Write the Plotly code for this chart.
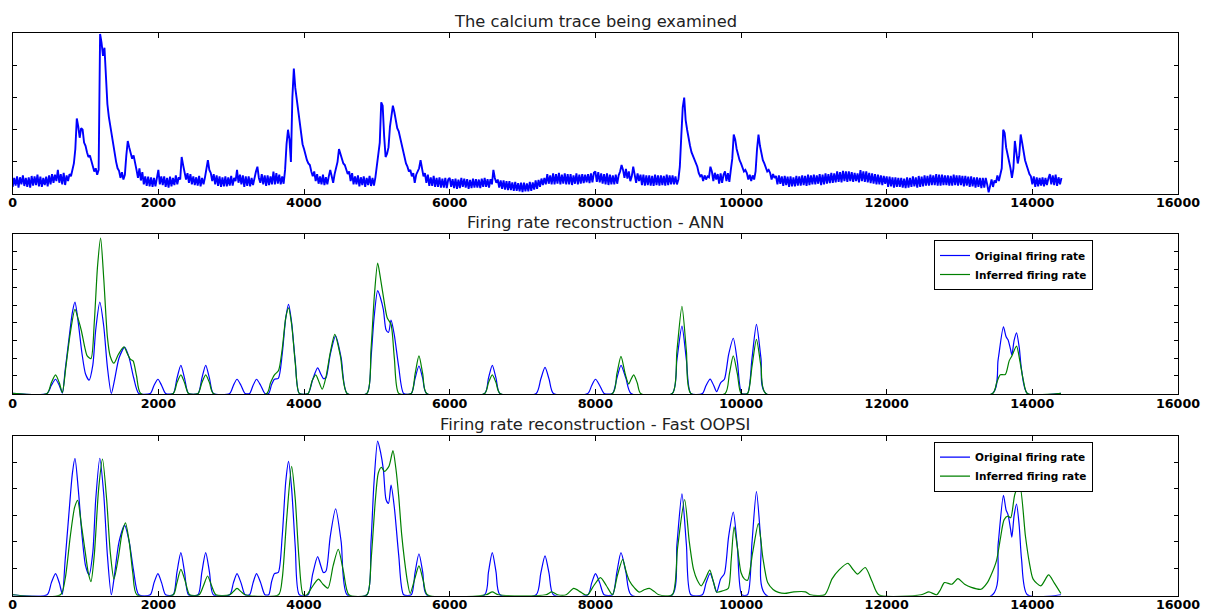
import plotly.graph_objects as go

# ---------------- data ----------------
# Calcium trace, one value every 20 frames (0 .. 14400)
calcium_y = [
    # 0 - 980
    0.22, 0.50, 0.26, 0.55, 0.20, 0.52, 0.30, 0.58, 0.25, 0.50, 0.22, 0.52, 0.20, 0.56, 0.26, 0.55, 0.28, 0.60, 0.24, 0.54,
    0.22, 0.50, 0.28, 0.54, 0.24, 0.58, 0.30, 0.62, 0.35, 0.60, 0.40, 0.75, 0.35, 0.62, 0.30, 0.66, 0.28, 0.58, 0.40, 0.62,
    0.55, 0.80, 0.95, 1.40, 2.35, 2.10, 1.75, 2.05, 2.00, 1.60,
    # 1000 - 1980
    1.50, 1.30, 1.15, 1.20, 1.00, 0.85, 0.70, 0.80, 0.60, 0.75,
    4.98, 4.70, 4.30, 4.55, 3.40, 2.80, 2.40, 2.10, 1.85, 1.45,
    1.25, 1.00, 0.80, 0.72, 0.50, 0.68, 0.45, 0.60, 1.20, 1.65,
    1.45, 1.30, 1.10, 1.20, 0.90, 0.75, 0.50, 0.80, 0.42, 0.68,
    0.30, 0.55, 0.25, 0.54, 0.24, 0.52, 0.22, 0.50, 0.24, 0.56,
    # 2000 - 2980
    0.75, 0.30, 0.55, 0.28, 0.55, 0.22, 0.50, 0.20, 0.54, 0.24, 0.50, 0.28, 0.58, 0.30, 0.52, 0.45, 1.15, 0.90, 0.70, 0.45,
    0.65, 0.35, 0.62, 0.30, 0.55, 0.28, 0.52, 0.26, 0.56, 0.24, 0.50, 0.30, 0.52, 0.80, 1.05, 0.75, 0.65, 0.40, 0.62, 0.30,
    0.58, 0.25, 0.55, 0.22, 0.52, 0.24, 0.55, 0.24, 0.52, 0.26,
    # 3000 - 3980
    0.56, 0.26, 0.50, 0.40, 0.75, 0.35, 0.60, 0.30, 0.58, 0.22, 0.55, 0.25, 0.55, 0.24, 0.50, 0.28, 0.52, 0.70, 0.85, 0.50,
    0.35, 0.62, 0.30, 0.58, 0.25, 0.58, 0.28, 0.55, 0.30, 0.70, 0.30, 0.65, 0.32, 0.60, 0.30, 0.55, 0.32, 0.75,
    1.55, 2.00, 1.70, 1.00, 3.00, 3.90, 3.30, 2.95, 2.60, 2.20, 1.85, 1.55,
    # 4000 - 4980
    1.40, 1.20, 1.05, 0.95, 0.90, 0.70, 0.55, 0.70, 0.40, 0.62, 0.32, 0.55, 0.30, 0.60, 0.28, 0.52, 0.30, 0.55, 0.75, 0.55,
    0.35, 0.62, 0.80, 1.00, 1.40, 1.25, 1.05, 0.95, 0.90, 0.75, 0.62, 0.70, 0.40, 0.65, 0.30, 0.55, 0.30, 0.58, 0.24, 0.52,
    0.28, 0.55, 0.22, 0.50, 0.28, 0.56, 0.25, 0.50, 0.26, 0.52,
    # 5000 - 5980
    0.95, 1.20, 1.60, 2.85, 2.75, 1.80, 1.15, 1.25, 1.45, 2.10,
    2.50, 2.75, 2.55, 2.30, 2.05, 1.95, 1.75, 1.50, 1.30, 1.10,
    0.95, 0.85, 0.70, 0.75, 0.55, 0.65, 0.35, 0.60, 0.68, 0.80,
    1.05, 0.85, 0.55, 0.65, 0.35, 0.60, 0.25, 0.52, 0.25, 0.56,
    0.22, 0.50, 0.22, 0.52, 0.20, 0.48, 0.20, 0.50, 0.18, 0.45,
    # 6000 - 6980
    0.50, 0.22, 0.46, 0.18, 0.48, 0.16, 0.45, 0.18, 0.50, 0.22, 0.48, 0.20, 0.46, 0.16, 0.44, 0.18, 0.48, 0.20, 0.46, 0.20,
    0.45, 0.18, 0.48, 0.22, 0.50, 0.22, 0.46, 0.20, 0.46, 0.30, 0.75, 0.50, 0.35, 0.45, 0.20, 0.42, 0.16, 0.42, 0.14, 0.40,
    0.12, 0.40, 0.12, 0.36, 0.10, 0.38, 0.10, 0.34, 0.08, 0.35,
    # 7000 - 7980
    0.06, 0.35, 0.08, 0.33, 0.08, 0.38, 0.10, 0.36, 0.14, 0.42, 0.16, 0.44, 0.22, 0.48, 0.28, 0.50, 0.30, 0.62, 0.32, 0.58,
    0.30, 0.64, 0.30, 0.62, 0.32, 0.66, 0.30, 0.60, 0.32, 0.64, 0.30, 0.62, 0.30, 0.62, 0.28, 0.58, 0.32, 0.64, 0.30, 0.60,
    0.32, 0.62, 0.34, 0.60, 0.36, 0.62, 0.34, 0.64, 0.36, 0.66,
    # 8000 - 8980
    0.70, 0.38, 0.68, 0.36, 0.64, 0.32, 0.62, 0.30, 0.64, 0.28, 0.60, 0.30, 0.58, 0.30, 0.60, 0.32, 0.58, 0.70, 0.90, 0.75,
    0.50, 0.78, 0.48, 0.70, 0.40, 0.55, 0.85, 0.60, 0.35, 0.64, 0.40, 0.60, 0.28, 0.60, 0.26, 0.58, 0.28, 0.58, 0.26, 0.56,
    0.25, 0.60, 0.28, 0.58, 0.26, 0.58, 0.28, 0.56, 0.26, 0.60,
    # 9000 - 9980
    0.28, 0.58, 0.30, 0.58, 0.30, 0.55, 0.30, 0.45, 0.85, 1.80,
    2.70, 3.00, 2.30, 2.00, 1.70, 1.50, 1.30, 1.20, 1.05, 0.95,
    0.85, 0.65, 0.55, 0.60, 0.40, 0.58, 0.45, 0.55, 0.52, 0.85,
    0.70, 0.40, 0.66, 0.45, 0.62, 0.32, 0.64, 0.35, 0.60, 0.70,
    0.40, 0.65, 0.38, 0.75, 1.10, 1.85, 1.70, 1.40, 1.20, 1.05,
    # 10000 - 10980
    0.95, 0.85, 0.70, 0.75, 0.65, 0.45, 0.60, 0.40, 0.58, 0.45,
    0.70, 1.40, 1.85, 1.50, 1.20, 1.05, 0.95, 0.80, 0.70, 0.75,
    0.65, 0.45, 0.62, 0.50, 0.56, 0.30, 0.58, 0.32, 0.55, 0.25,
    0.56, 0.28, 0.54, 0.22, 0.55, 0.24, 0.52, 0.24, 0.56, 0.26,
    0.55, 0.26, 0.58, 0.28, 0.56, 0.25, 0.60, 0.28, 0.58, 0.30,
    # 11000 - 11980
    0.60, 0.30, 0.58, 0.32, 0.62, 0.28, 0.60, 0.30, 0.64, 0.32, 0.62, 0.34, 0.66, 0.35, 0.64, 0.36, 0.70, 0.38, 0.68, 0.36,
    0.72, 0.40, 0.70, 0.38, 0.70, 0.40, 0.68, 0.38, 0.66, 0.40, 0.64, 0.36, 0.74, 0.40, 0.70, 0.38, 0.70, 0.36, 0.66, 0.34,
    0.64, 0.32, 0.62, 0.30, 0.60, 0.30, 0.58, 0.28, 0.56, 0.32,
    # 12000 - 12980
    0.55, 0.22, 0.54, 0.24, 0.52, 0.20, 0.52, 0.22, 0.50, 0.22, 0.50, 0.20, 0.48, 0.18, 0.52, 0.20, 0.50, 0.22, 0.55, 0.24,
    0.52, 0.20, 0.56, 0.22, 0.54, 0.24, 0.58, 0.26, 0.56, 0.26, 0.60, 0.28, 0.58, 0.28, 0.62, 0.26, 0.60, 0.26, 0.60, 0.28,
    0.58, 0.28, 0.58, 0.26, 0.56, 0.26, 0.60, 0.28, 0.58, 0.26,
    # 13000 - 13980
    0.58, 0.28, 0.56, 0.24, 0.56, 0.26, 0.54, 0.22, 0.55, 0.24, 0.52, 0.20, 0.52, 0.22, 0.50, 0.18, 0.50, 0.20, 0.50, 0.30,
    0.05, 0.25, 0.45, 0.22, 0.42, 0.35, 0.58, 0.40, 0.62, 0.80,
    2.00, 1.90, 1.45, 1.25, 1.10, 0.80, 0.50, 0.80, 1.65, 1.30,
    0.95, 1.20, 1.85, 1.60, 1.30, 1.05, 0.90, 0.75, 0.62, 0.55,
    # 14000 - 14400
    0.30, 0.55, 0.22, 0.52, 0.24, 0.50, 0.26, 0.52, 0.24, 0.50, 0.28, 0.48, 0.62, 0.30, 0.58, 0.28, 0.60, 0.25, 0.52, 0.30, 0.50,
]
calcium_x = [20 * i for i in range(len(calcium_y))]

# Original firing rate (same series in both reconstruction panels)
orig_x = [0, 472, 530, 588, 640, 682, 720, 770, 820, 855, 900, 950, 1000, 1049, 1100, 1140, 1196, 1250, 1300, 1354,
          1400, 1460, 1537, 1600, 1660, 1731, 1889, 1940, 1994, 2045, 2099, 2204, 2255, 2309, 2360, 2414,
          2545, 2597, 2650, 2702, 2755, 2980, 3030, 3080, 3135, 3190, 3253, 3300, 3348, 3405, 3463,
          3515, 3555, 3594, 3647, 3700, 3750, 3788, 3830, 3880, 3935,
          4056, 4120, 4187, 4230, 4266, 4302, 4360, 4434, 4510, 4591,
          4864, 4920, 4960, 5011, 5050, 5090, 5126, 5160, 5195, 5240, 5300, 5368,
          5473, 5525, 5578, 5630, 5683, 6480, 6532, 6585, 6637, 6690, 7188, 7250, 7309, 7365, 7424,
          7897, 7950, 8002, 8060, 8120, 8236, 8295, 8352, 8420, 8490, 9057, 9120, 9189, 9250, 9311,
          9470, 9520, 9576, 9625, 9666, 9720, 9772, 9830, 9894, 9950, 10010, 10090, 10150, 10212, 10275, 10339,
          13454, 13530, 13603, 13640, 13666, 13700, 13719, 13750, 13783, 13820, 13852, 13931, 14392]
orig_y = [0, 0, 0.45, 0.80, 0.45, 0.02, 1.3, 3.0, 4.6, 5.16, 4.0, 2.3, 1.1, 0.75, 1.6, 3.6, 5.16, 3.8, 1.5, 0.0,
          0.8, 2.0, 2.62, 2.0, 0.9, 0, 0, 0.45, 0.80, 0.45, 0, 0, 0.85, 1.59, 0.85, 0,
          0, 0.85, 1.59, 0.85, 0, 0, 0.45, 0.80, 0.45, 0, 0, 0.45, 0.80, 0.45, 0,
          0, 0.5, 0.80, 0.85, 2.2, 4.3, 5.04, 4.0, 1.8, 0,
          0, 0.8, 1.44, 1.1, 0.84, 0.9, 2.2, 3.25, 2.0, 0,
          0, 2.0, 4.2, 5.81, 5.4, 4.72, 3.6, 3.45, 4.14, 3.3, 1.5, 0,
          0, 0.85, 1.55, 0.85, 0, 0, 0.85, 1.59, 0.85, 0, 0, 0.8, 1.47, 0.8, 0,
          0, 0.45, 0.80, 0.45, 0, 0, 0.85, 1.59, 0.85, 0, 0, 1.9, 3.81, 1.9, 0,
          0, 0.45, 0.81, 0.45, 0.1, 0.6, 0.8, 2.2, 3.12, 1.8, 0, 0, 1.95, 3.9, 1.95, 0,
          0, 1.9, 3.76, 3.2, 3.03, 2.5, 2.18, 3.0, 3.43, 2.6, 1.34, 0, 0]

# Inferred firing rate - ANN
ann_x = [0, 472, 530, 588, 640, 682, 730, 790, 855, 900, 944, 990, 1023, 1075, 1120, 1165, 1207, 1250, 1300, 1338,
         1390, 1450, 1527, 1580, 1616, 1653, 1700, 1758, 2204, 2255, 2309, 2360, 2414, 2545, 2597, 2650, 2702, 2755,
         3489, 3540, 3594, 3650, 3700, 3750, 3788, 3830, 3880, 3935,
         4056, 4110, 4161, 4210, 4250, 4300, 4360, 4423, 4500, 4591,
         4864, 4920, 4965, 5011, 5050, 5090, 5142, 5195, 5240, 5300,
         5473, 5525, 5578, 5630, 5683, 6480, 6532, 6585, 6637, 6690,
         8236, 8295, 8352, 8410, 8458, 8490, 8527, 8575, 8622, 9057, 9120, 9189, 9250, 9311,
         9783, 9840, 9894, 9950, 10000, 10090, 10150, 10212, 10275, 10339,
         13454, 13510, 13560, 13629, 13682, 13719, 13783, 13830, 13878, 13931, 14392]
ann_y = [0, 0, 0.6, 1.05, 0.6, 0.05, 1.5, 3.4, 4.75, 4.2, 3.53, 2.6, 2.12, 1.97, 4.0, 7.2, 8.78, 6.5, 3.2, 2.12,
         1.71, 2.2, 2.63, 2.2, 1.93, 1.84, 1.0, 0, 0, 0.6, 1.05, 0.6, 0, 0, 0.6, 1.05, 0.6, 0,
         0, 0.6, 1.05, 1.3, 2.5, 4.3, 4.84, 3.9, 1.7, 0,
         0, 0.7, 1.05, 0.6, 0.24, 0.9, 2.3, 3.34, 2.1, 0,
         0, 2.5, 5.5, 7.37, 6.5, 5.46, 4.28, 3.9, 2.0, 0,
         0, 1.1, 2.12, 1.1, 0, 0, 0.6, 1.05, 0.6, 0,
         0, 1.1, 2.1, 1.1, 0.53, 0.8, 1.05, 0.6, 0, 0, 2.4, 4.93, 2.4, 0,
         0, 1.1, 2.12, 1.1, 0, 0, 1.5, 3.06, 1.5, 0,
         0, 0.6, 1.05, 1.07, 1.84, 2.12, 2.68, 1.8, 0.71, 0, 0]

# Inferred firing rate - Fast OOPSI
oopsi_x = [0, 656, 720, 790, 850, 892, 940, 997, 1040, 1075, 1120, 1180, 1233, 1290, 1340, 1390, 1450, 1500, 1548, 1600, 1650, 1705,
           2204, 2250, 2309, 2370, 2430, 2560, 2620, 2676, 2730, 2790, 2980, 3030, 3080, 3135, 3190,
           3650, 3700, 3760, 3830, 3880, 3930, 3988,
           4040, 4100, 4198, 4260, 4329, 4400, 4470, 4540, 4617,
           4864, 4920, 4980, 5020, 5063, 5105, 5168, 5221, 5260, 5300, 5340, 5378, 5420, 5457, 5520, 5578, 5640, 5693,
           6500, 6585, 6670, 7320, 7400, 7480, 7600, 7703, 7800, 7860,
           7897, 7980, 8070, 8150, 8236, 8300, 8375, 8420, 8467, 8540, 8605, 8680, 8742, 8810, 8872,
           9057, 9130, 9226, 9290, 9348, 9400, 9454, 9510, 9571, 9620, 9666, 9750, 9825, 9865, 9905, 9950, 10000,
           10045, 10090, 10160, 10238, 10300, 10366, 10440, 10514, 10600, 10726, 10885, 10950,
           11150, 11250, 11350, 11467, 11540, 11600, 11706, 11800, 11891, 12474, 12580, 12686,
           12740, 12792, 12898, 12977, 13070, 13163, 13296, 13380, 13428, 13507, 13560, 13613, 13666, 13703,
           13760, 13825, 13905, 13960, 14011, 14117, 14223, 14300, 14392]
oopsi_y = [0, 0, 0.6, 2.2, 3.3, 3.57, 2.7, 1.59, 0.8, 0.5, 1.5, 4.0, 5.13, 3.6, 1.6, 0.59, 1.4, 2.3, 2.72, 2.0, 0.8, 0,
           0, 0.4, 0.96, 0.5, 0, 0, 0.35, 0.71, 0.35, 0, 0, 0.12, 0.24, 0.12, 0,
           0, 0.6, 2.8, 4.85, 3.6, 1.4, 0,
           0, 0.25, 0.59, 0.4, 0.25, 1.1, 1.72, 0.9, 0,
           0, 1.3, 3.6, 4.6, 4.82, 4.66, 4.87, 5.45, 4.8, 3.72, 2.3, 1.34, 0.5, 0.05, 0.6, 1.09, 0.5, 0,
           0, 0.11, 0, 0, 0.11, 0, 0, 0.24, 0.1, 0,
           0, 0.35, 0.65, 0.35, 0, 0.7, 1.34, 0.9, 0.53, 0.25, 0.1, 0.2, 0.24, 0.12, 0,
           0, 1.8, 3.6, 2.0, 0.96, 0.55, 0.34, 0.6, 0.93, 0.5, 0.1, 0.15, 0.24, 1.3, 2.57, 1.8, 0.84,
           0.6, 0.55, 1.6, 2.69, 1.4, 0.46, 0.2, 0.09, 0.05, 0.11, 0.11, 0,
           0, 0.6, 0.95, 1.19, 0.95, 0.78, 1.03, 0.5, 0, 0, 0.11, 0,
           0.2, 0.46, 0.4, 0.61, 0.4, 0.28, 0.21, 0.45, 0.71, 1.28, 2.1, 2.84, 2.97, 2.91,
           3.8, 4.16, 2.22, 1.2, 0.59, 0.34, 0.75, 0.45, 0.05]

titles = ["The calcium trace being examined",
          "Firing rate reconstruction - ANN",
          "Firing rate reconstruction - Fast OOPSI"]
legend_names = ["Original firing rate", "Inferred firing rate"]
x_tick_values = [0, 2000, 4000, 6000, 8000, 10000, 12000, 14000, 16000]

# ---------------- figure ----------------
BLUE = "#0000ff"
GREEN = "#008000"
FONT = "DejaVu Sans"
W, H = 1205, 613

fig = go.Figure()
fig.add_trace(go.Scatter(x=calcium_x, y=calcium_y, mode="lines",
                         line=dict(color=BLUE, width=1.9), xaxis="x", yaxis="y",
                         showlegend=False, hoverinfo="skip"))
spl = dict(shape="spline", smoothing=0.7, width=1.2)
fig.add_trace(go.Scatter(x=orig_x, y=orig_y, mode="lines", name=legend_names[0],
                         line=dict(color=BLUE, **spl), xaxis="x2", yaxis="y2", legend="legend"))
fig.add_trace(go.Scatter(x=ann_x, y=ann_y, mode="lines", name=legend_names[1],
                         line=dict(color=GREEN, **spl), xaxis="x2", yaxis="y2", legend="legend"))
fig.add_trace(go.Scatter(x=orig_x, y=orig_y, mode="lines", name=legend_names[0],
                         line=dict(color=BLUE, **spl), xaxis="x3", yaxis="y3", legend="legend2"))
fig.add_trace(go.Scatter(x=oopsi_x, y=oopsi_y, mode="lines", name=legend_names[1],
                         line=dict(color=GREEN, **spl), xaxis="x3", yaxis="y3", legend="legend2"))

x_left, x_right = 12.7 / W, 1178 / W
panels = [(33.3, 194.0, [0, 5]), (234.3, 394.3, [-0.05, 9]), (436.0, 595.7, [-0.035, 6])]

xcommon = dict(range=[0, 16000], tickmode="array", tickvals=x_tick_values,
               ticktext=[str(v) for v in x_tick_values],
               ticks="inside", ticklen=5, ticklabelstandoff=-3,
               tickcolor="black", tickwidth=1, mirror="ticks", showline=True,
               linecolor="black", linewidth=1, showgrid=False, zeroline=False,
               domain=[x_left, x_right], automargin=False,
               tickfont=dict(family=FONT, size=12.7, color="black", weight="bold"))
ycommon = dict(ticks="inside", ticklen=4, tickcolor="black", tickwidth=1, mirror="ticks",
               showline=True, linecolor="black", linewidth=1, showgrid=False,
               zeroline=False, showticklabels=False, dtick=1, tick0=0, automargin=False)

layout = dict(width=W, height=H, margin=dict(l=0, r=0, t=0, b=0, autoexpand=False),
              plot_bgcolor="white", paper_bgcolor="white",
              font=dict(family=FONT, color="black"))
annotations = []
for i, (top, bot, yr) in enumerate(panels):
    sx = "" if i == 0 else str(i + 1)
    layout["xaxis" + sx] = dict(xcommon, anchor="y" + sx)
    layout["yaxis" + sx] = dict(ycommon, range=yr, anchor="x" + sx,
                                domain=[1 - bot / H, 1 - top / H])
    annotations.append(dict(text=titles[i], x=(x_left + x_right) / 2, y=1 - (top - 12) / H,
                            xref="paper", yref="paper", xanchor="center", yanchor="middle",
                            showarrow=False, font=dict(family=FONT, size=16.3, color="#222222")))
layout["annotations"] = annotations

leg = dict(xanchor="right", yanchor="top", bordercolor="black", borderwidth=1,
           bgcolor="white", itemwidth=30, tracegroupgap=0,
           font=dict(family=FONT, size=10.5, color="black", weight="bold"))
layout["legend"] = dict(leg, x=1093 / W, y=1 - 240 / H)
layout["legend2"] = dict(leg, x=1093 / W, y=1 - 441.7 / H)

fig.update_layout(**layout)
fig.write_html("out.html", config={"displayModeBar": False},
               post_script="document.body.style.margin='0px';document.body.style.overflow='hidden';")
